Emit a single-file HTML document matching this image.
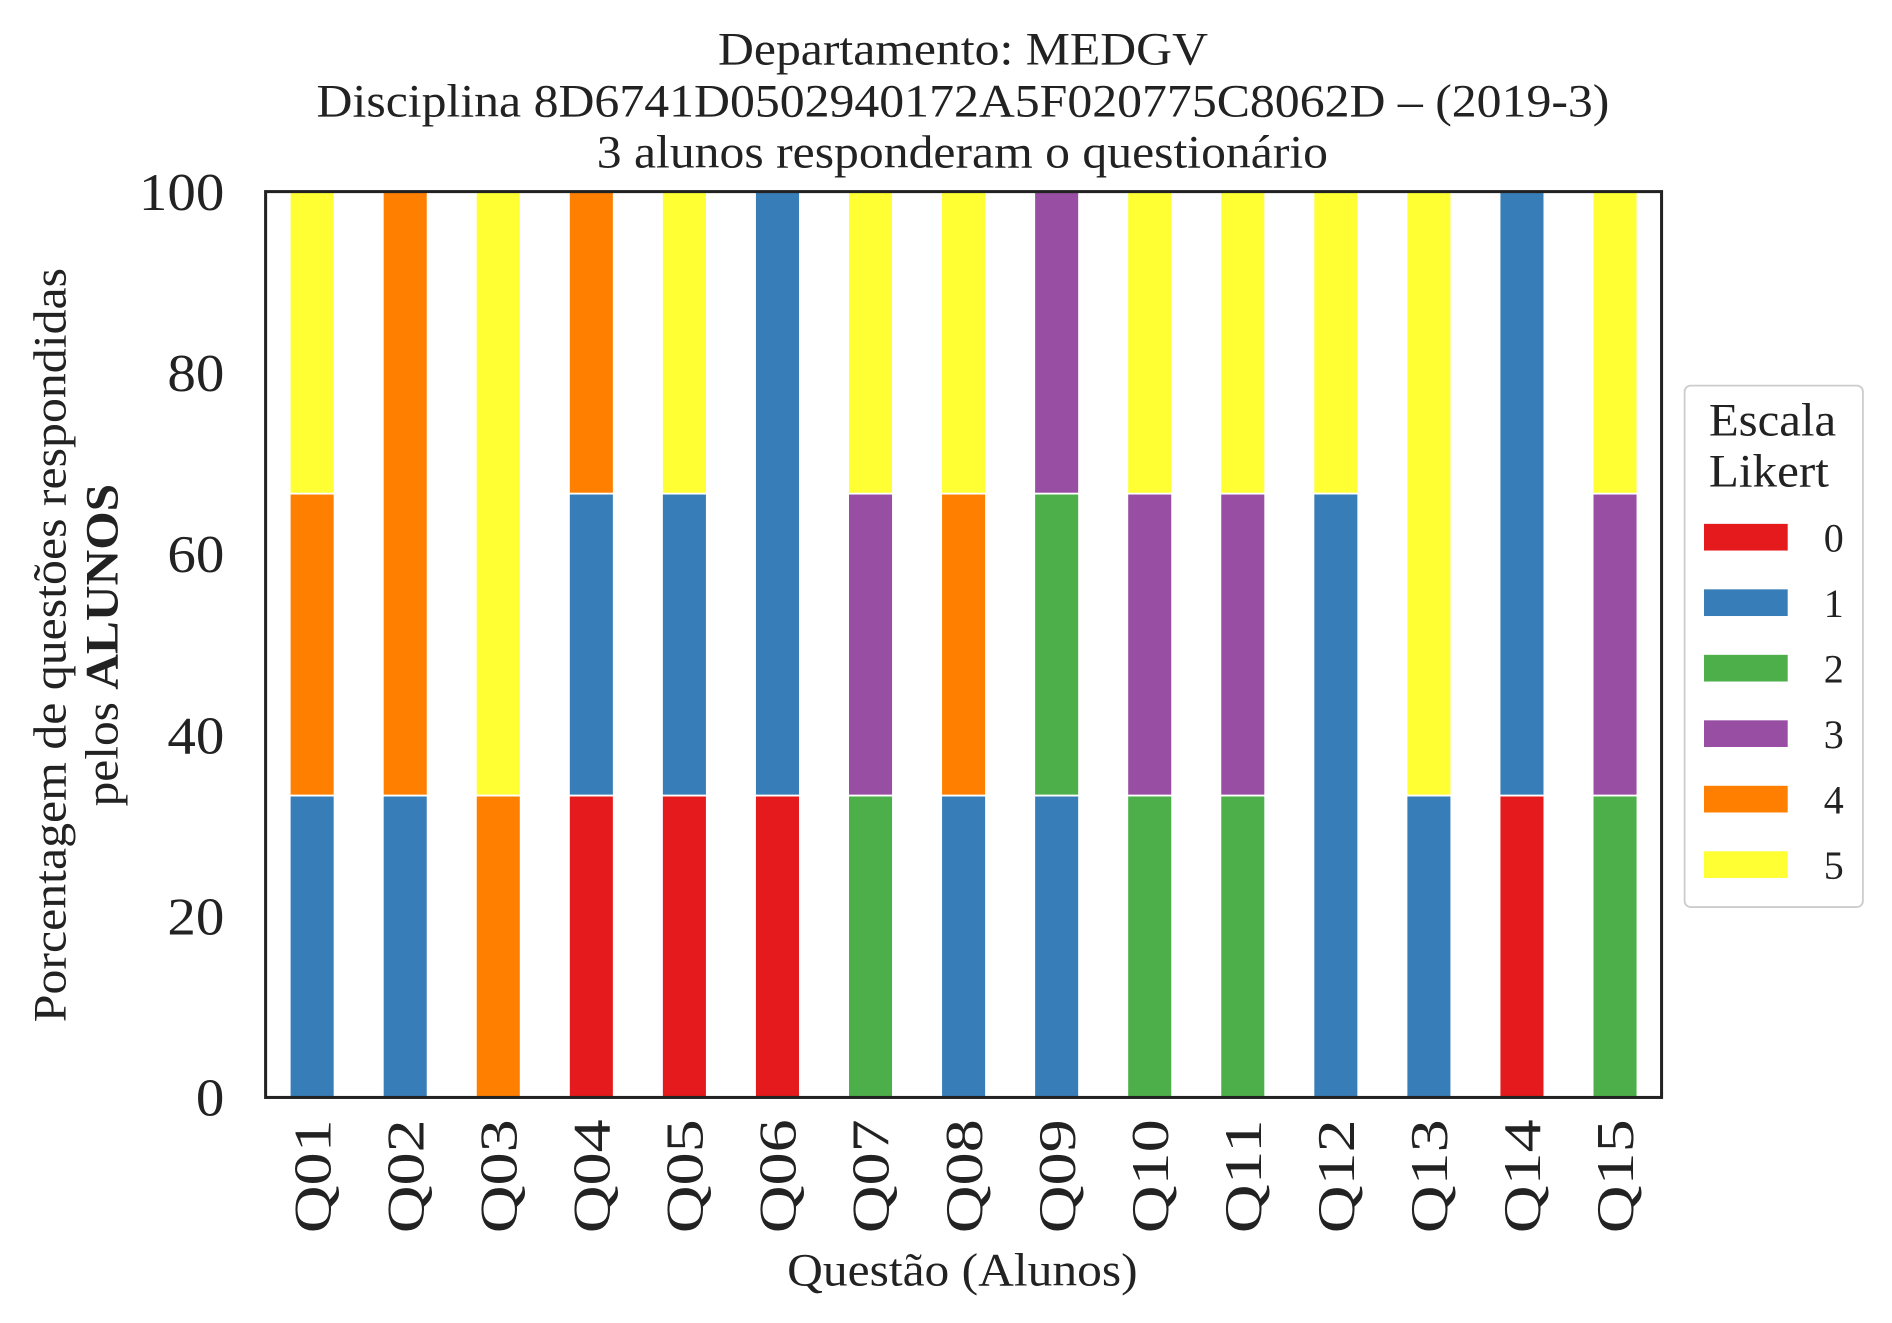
<!DOCTYPE html>
<html><head><meta charset="utf-8"><style>
html,body{margin:0;padding:0;background:#fff}
svg{display:block;font-family:"Liberation Serif",serif}
</style></head><body>
<svg width="1892" height="1323" viewBox="0 0 1560 1091" preserveAspectRatio="none" xmlns="http://www.w3.org/2000/svg">
<g font-size="38" fill="#222">
<text x="592" y="53" textLength="404" lengthAdjust="spacingAndGlyphs">Departamento: MEDGV</text>
<text x="261" y="96" textLength="1066" lengthAdjust="spacingAndGlyphs">Disciplina 8D6741D0502940172A5F020775C8062D – (2019-3)</text>
<text x="492" y="138" textLength="603" lengthAdjust="spacingAndGlyphs">3 alunos responderam o questionário</text>
</g>
<g id="bars"></g>
<rect x="219" y="158" width="1151" height="747" fill="none" stroke="#222" stroke-width="2.5"/>
<g id="yt" font-size="44" fill="#222"></g>
<g id="xt" font-size="44" fill="#222"></g>
<text x="649" y="1060" textLength="289" lengthAdjust="spacingAndGlyphs" font-size="38" fill="#222">Questão (Alunos)</text>
<g font-size="38" fill="#222">
<text transform="translate(54,843) rotate(-90)" textLength="622" lengthAdjust="spacingAndGlyphs">Porcentagem de questões respondidas</text>
<text transform="translate(97,665) rotate(-90)" textLength="266" lengthAdjust="spacingAndGlyphs">pelos <tspan font-weight="bold">ALUNOS</tspan></text>
</g>
<g>
<rect x="1389" y="318" width="147" height="430" rx="5" fill="#fff" stroke="#ccc" stroke-width="1.5"/>
<text x="1409" y="359" textLength="105" lengthAdjust="spacingAndGlyphs" font-size="38" fill="#222">Escala</text>
<text x="1409" y="401" textLength="99" lengthAdjust="spacingAndGlyphs" font-size="38" fill="#222">Likert</text>
<g id="leg"></g>
</g>
</svg>
<script>
const categories=["Q01","Q02","Q03","Q04","Q05","Q06","Q07","Q08","Q09","Q10","Q11","Q12","Q13","Q14","Q15"];
const levels=["0","1","2","3","4","5"];
const s0=[0,0,0,33.33,33.33,33.33,0,0,0,0,0,0,0,33.33,0];
const s1=[33.33,33.33,0,33.33,33.33,66.67,0,33.33,33.33,0,0,66.67,33.33,66.67,0];
const s2=[0,0,0,0,0,0,33.33,0,33.33,33.33,33.33,0,0,0,33.33];
const s3=[0,0,0,0,0,0,33.33,0,33.33,33.33,33.33,0,0,0,33.33];
const s4=[33.33,66.67,33.33,33.33,0,0,0,33.33,0,0,0,0,0,0,0];
const s5=[33.33,0,66.67,0,33.33,0,33.33,33.33,0,33.33,33.33,33.33,66.67,0,33.33];
const yTicks=[0,20,40,60,80,100];
const series=[s0,s1,s2,s3,s4,s5];
const colors=["#e41a1c","#377eb8","#4daf4a","#984ea3","#ff7f00","#ffff33"];
const NS="http://www.w3.org/2000/svg";
const x0=219,x1=1370,y0=905,y1=158;
const step=(x1-x0)/categories.length;
const xc=i=>x0+step*(i+0.5);
const y=v=>y0-(v/100)*(y0-y1);
const bw=37;
const bars=document.getElementById('bars');
categories.forEach((c,i)=>{
  let acc=0;
  series.forEach((s,k)=>{
    const v=s[i]; if(!v) return;
    const r=document.createElementNS(NS,'rect');
    
    
    r.setAttribute('x',xc(i)-bw/2);r.setAttribute('width',bw);
    r.setAttribute('y',y(acc+v));r.setAttribute('height',y(acc)-y(acc+v));
    r.setAttribute('fill',colors[k]);r.setAttribute('stroke','#fff');r.setAttribute('stroke-width','1.5');
    bars.appendChild(r);acc+=v;
  });
});
const yt=document.getElementById('yt');
yTicks.forEach(t=>{
  const e=document.createElementNS(NS,'text');
  
  
  const w=String(t).length*23.5;
  e.setAttribute('x',185-w);e.setAttribute('y',y(t)+15);
  e.setAttribute('textLength',w);e.setAttribute('lengthAdjust','spacingAndGlyphs');
  e.textContent=t;yt.appendChild(e);
});
const xt=document.getElementById('xt');
categories.forEach((c,i)=>{
  const e=document.createElementNS(NS,'text');
  
  
  e.setAttribute('textLength',94);e.setAttribute('lengthAdjust','spacingAndGlyphs');
  e.setAttribute('transform','translate('+(xc(i)+15)+',1017) rotate(-90)');
  e.textContent=c;xt.appendChild(e);
});
const leg=document.getElementById('leg');
levels.forEach((l,k)=>{
  const cy=443+k*54;
  const r=document.createElementNS(NS,'rect');
  
  
  r.setAttribute('x',1405);r.setAttribute('y',cy-11);r.setAttribute('width',69);r.setAttribute('height',22);r.setAttribute('fill',colors[k]);
  leg.appendChild(r);
  const t=document.createElementNS(NS,'text');
  
  
  t.setAttribute('x',1512);t.setAttribute('y',cy+12);t.setAttribute('text-anchor','middle');t.setAttribute('font-size','33');t.setAttribute('fill','#222');
  t.textContent=l;leg.appendChild(t);
});
</script>
</body></html>
